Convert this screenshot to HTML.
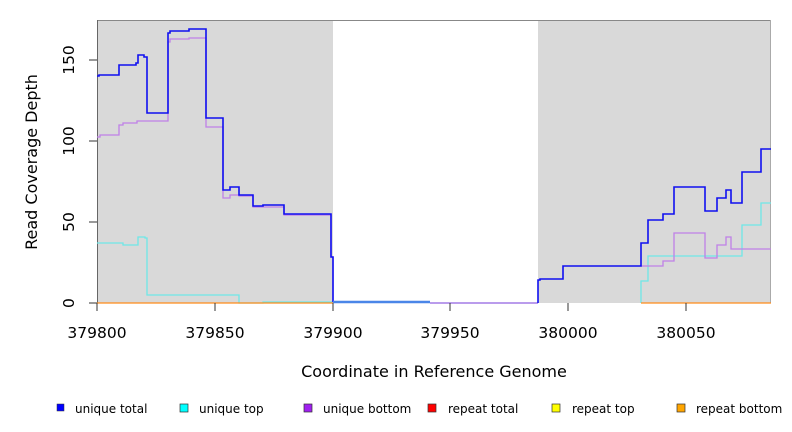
<!DOCTYPE html>
<html><head><style>body{margin:0;background:#fff}svg{display:block;font-family:"DejaVu Sans","Liberation Sans",sans-serif}</style></head><body>
<svg width="792" height="432" viewBox="0 0 792 432">
<rect x="97" y="20" width="236" height="283" fill="#d9d9d9"/>
<rect x="538" y="20" width="233" height="283" fill="#d9d9d9"/>
<line x1="97" y1="20.5" x2="771" y2="20.5" stroke="#888" stroke-width="1"/>
<line x1="97.5" y1="20" x2="97.5" y2="303" stroke="#666"/>
<line x1="770.5" y1="20" x2="770.5" y2="303" stroke="#aaa"/>
<g fill="none" stroke-width="1.3">
<path d="M97,243 H123 V245 H138 V237 H145 V238 H147 V295 H239 V303 H263 V302 H333" stroke="#6ee8e8"/>
<path d="M641,303 V281 H648 V256 H742 V225 H761 V203 H771" stroke="#6ee8e8"/>
<path d="M97,137 H100 V135 H119 V125 H123 V123 H137 V121 H168 V42 H170 V39 H189 V38 H206 V127 H223 V198 H230 V195 H239 V196 H253 V207 H284 V215 H331 V257 H333 V303" stroke="#c080e8"/>
<path d="M641,266 H663 V261 H674 V233 H705 V258 H717 V245 H726 V237 H731 V249 H771" stroke="#c080e8"/>
<path d="M97,76 H99 V75 H119 V65 H136 V63 H138 V55 H144 V57 H147 V113 H168 V33 H170 V31 H189 V29 H206 V118 H223 V190 H230 V187 H239 V195 H253 V206 H263 V205 H284 V214 H331 V257 H333 V302" stroke="#1010f0" stroke-width="1.6"/>
<path d="M333,302 H430" stroke="#4a86e8" stroke-width="2.5"/>
<path d="M430,303 H538" stroke="#9060e0"/>
<path d="M538,303 V280 H540 V279 H563 V266 H641 V243 H648 V220 H663 V214 H674 V187 H705 V211 H717 V198 H726 V190 H731 V203 H742 V172 H761 V149 H771" stroke="#1010f0" stroke-width="1.6"/>
<line x1="97" y1="303" x2="333" y2="303" stroke="#ff8c1a"/>
<line x1="641" y1="303" x2="771" y2="303" stroke="#ff8c1a"/>
</g>
<g stroke="#333">
<line x1="97" y1="303" x2="97" y2="311"/><line x1="215" y1="303" x2="215" y2="311"/><line x1="333" y1="303" x2="333" y2="311"/><line x1="450" y1="303" x2="450" y2="311"/><line x1="568" y1="303" x2="568" y2="311"/><line x1="686" y1="303" x2="686" y2="311"/>
<line x1="89" y1="303" x2="97" y2="303"/><line x1="89" y1="222" x2="97" y2="222"/><line x1="89" y1="141" x2="97" y2="141"/><line x1="89" y1="60" x2="97" y2="60"/>
</g>
<g font-size="15.5" fill="#000" text-anchor="middle">
<text x="97" y="338">379800</text><text x="215" y="338">379850</text><text x="333" y="338">379900</text><text x="450" y="338">379950</text><text x="568" y="338">380000</text><text x="686" y="338">380050</text>
<text transform="translate(74,303) rotate(-90)">0</text>
<text transform="translate(74,222) rotate(-90)">50</text>
<text transform="translate(74,141) rotate(-90)">100</text>
<text transform="translate(74,60) rotate(-90)">150</text>
</g>
<g font-size="16" fill="#000" text-anchor="middle">
<text x="434" y="377">Coordinate in Reference Genome</text>
<text transform="translate(37,162) rotate(-90)">Read Coverage Depth</text>
</g>
<g font-size="12" fill="#000">
<rect x="57" y="404" width="7" height="7" fill="#0000ff" stroke="#333" stroke-width=".5"/><text x="75" y="413">unique total</text>
<rect x="180" y="404" width="8" height="8" fill="#00ffff" stroke="#333" stroke-width=".7"/><text x="199" y="413">unique top</text>
<rect x="304" y="404" width="8" height="8" fill="#a020f0" stroke="#333" stroke-width=".7"/><text x="323" y="413">unique bottom</text>
<rect x="428" y="404" width="8" height="8" fill="#ff0000" stroke="#333" stroke-width=".7"/><text x="448" y="413">repeat total</text>
<rect x="552" y="404" width="8" height="8" fill="#ffff00" stroke="#333" stroke-width=".7"/><text x="572" y="413">repeat top</text>
<rect x="677" y="404" width="8" height="8" fill="#ffa500" stroke="#333" stroke-width=".7"/><text x="696" y="413">repeat bottom</text>
</g>
</svg>
</body></html>
